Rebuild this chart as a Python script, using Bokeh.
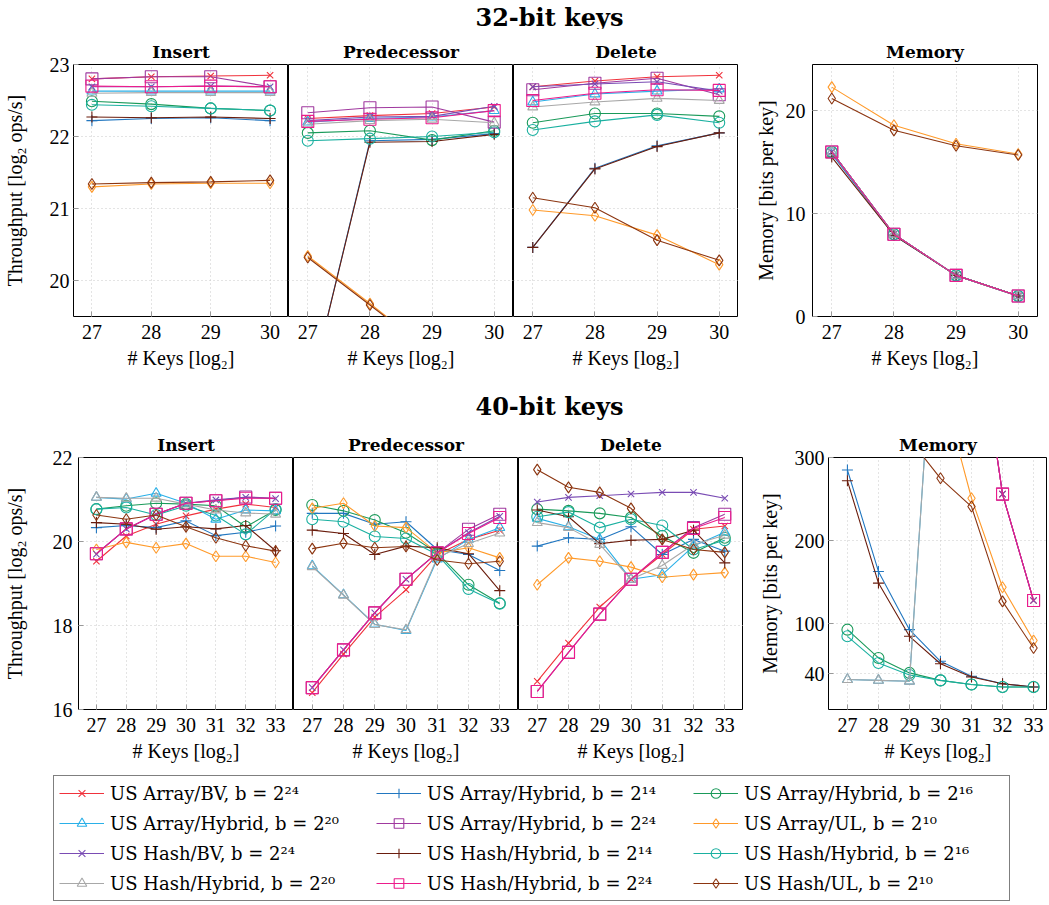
from bokeh.plotting import figure
from bokeh.layouts import column, row
from bokeh.models import Range1d, FixedTicker, Legend, LegendItem
from bokeh.embed import file_html
from bokeh.resources import INLINE

FONT = "Liberation Serif"
TFONT = "DejaVu Serif"
INK = "#000000"

# ---------------- data ----------------
x32 = [27, 28, 29, 30]
x40 = [27, 28, 29, 30, 31, 32, 33]

series_keys = ["abv", "ah14", "ah16", "ah20", "ah24", "aul",
               "hbv", "hh14", "hh16", "hh20", "hh24", "hul"]
series_labels = {
    "abv": "US Array/BV, b = 2²⁴",
    "ah14": "US Array/Hybrid, b = 2¹⁴",
    "ah16": "US Array/Hybrid, b = 2¹⁶",
    "ah20": "US Array/Hybrid, b = 2²⁰",
    "ah24": "US Array/Hybrid, b = 2²⁴",
    "aul": "US Array/UL, b = 2¹⁰",
    "hbv": "US Hash/BV, b = 2²⁴",
    "hh14": "US Hash/Hybrid, b = 2¹⁴",
    "hh16": "US Hash/Hybrid, b = 2¹⁶",
    "hh20": "US Hash/Hybrid, b = 2²⁰",
    "hh24": "US Hash/Hybrid, b = 2²⁴",
    "hul": "US Hash/UL, b = 2¹⁰",
}

# 32-bit keys: throughput [log2 ops/s]
ins32 = {
    "abv": [22.80, 22.83, 22.84, 22.85],
    "ah14": [22.22, 22.25, 22.26, 22.22],
    "ah16": [22.49, 22.45, 22.39, 22.36],
    "ah20": [22.63, 22.63, 22.63, 22.63],
    "ah24": [22.80, 22.83, 22.83, 22.69],
    "aul": [21.30, 21.34, 21.35, 21.35],
    "hbv": [22.69, 22.69, 22.70, 22.69],
    "hh14": [22.27, 22.26, 22.27, 22.25],
    "hh16": [22.44, 22.42, 22.39, 22.36],
    "hh20": [22.60, 22.61, 22.61, 22.61],
    "hh24": [22.70, 22.69, 22.70, 22.69],
    "hul": [21.34, 21.36, 21.37, 21.39],
}
pred32 = {
    "abv": [22.25, 22.29, 22.32, 22.41],
    "ah14": [18.36, 21.94, 21.96, 22.04],
    "ah16": [22.05, 22.08, 21.95, 22.08],
    "ah20": [22.20, 22.25, 22.27, 22.36],
    "ah24": [22.33, 22.40, 22.41, 22.20],
    "aul": [20.34, 19.68, 19.00, 18.35],
    "hbv": [22.22, 22.27, 22.28, 22.42],
    "hh14": [18.36, 21.92, 21.93, 22.03],
    "hh16": [21.94, 21.97, 22.00, 22.06],
    "hh20": [22.17, 22.22, 22.24, 22.19],
    "hh24": [22.21, 22.24, 22.26, 22.36],
    "hul": [20.32, 19.66, 19.00, 18.35],
}
del32 = {
    "abv": [22.69, 22.77, 22.83, 22.85],
    "ah14": [20.46, 21.56, 21.87, 22.05],
    "ah16": [22.19, 22.32, 22.32, 22.28],
    "ah20": [22.48, 22.59, 22.63, 22.66],
    "ah24": [22.65, 22.74, 22.81, 22.58],
    "aul": [20.98, 20.90, 20.63, 20.22],
    "hbv": [22.69, 22.73, 22.76, 22.63],
    "hh14": [20.46, 21.55, 21.86, 22.05],
    "hh16": [22.09, 22.21, 22.30, 22.19],
    "hh20": [22.41, 22.48, 22.53, 22.50],
    "hh24": [22.50, 22.60, 22.65, 22.64],
    "hul": [21.15, 21.01, 20.56, 20.28],
}
mem32 = {
    "abv": [16.0, 8.0, 4.0, 2.0],
    "ah14": [15.8, 7.9, 4.0, 2.0],
    "ah16": [16.0, 8.0, 4.0, 2.0],
    "ah20": [16.0, 8.0, 4.0, 2.0],
    "ah24": [16.0, 8.0, 4.0, 2.0],
    "aul": [22.3, 18.6, 16.8, 15.8],
    "hbv": [16.0, 8.0, 4.0, 2.0],
    "hh14": [15.5, 7.9, 4.0, 2.0],
    "hh16": [16.0, 8.0, 4.0, 2.0],
    "hh20": [16.0, 8.0, 4.0, 2.0],
    "hh24": [16.0, 8.0, 4.0, 2.0],
    "hul": [21.2, 18.1, 16.6, 15.7],
}

# 40-bit keys
ins40 = {
    "abv": [19.53, 20.13, 20.41, 20.61, 20.77, 20.89, 20.81],
    "ah14": [20.33, 20.38, 20.33, 20.49, 20.14, 20.22, 20.37],
    "ah16": [20.77, 20.85, 20.91, 20.89, 20.85, 20.35, 20.75],
    "ah20": [21.05, 21.01, 21.15, 20.91, 20.53, 20.75, 20.73],
    "ah24": [19.71, 20.30, 20.65, 20.91, 20.97, 21.06, 21.03],
    "aul": [19.81, 19.98, 19.85, 19.95, 19.65, 19.65, 19.50],
    "hbv": [19.70, 20.30, 20.65, 20.91, 20.99, 21.05, 21.02],
    "hh14": [20.45, 20.41, 20.29, 20.35, 20.30, 20.38, 19.78],
    "hh16": [20.77, 20.81, 20.63, 20.85, 20.62, 20.17, 20.77],
    "hh20": [21.05, 21.03, 21.03, 20.89, 20.75, 20.68, 20.65],
    "hh24": [19.71, 20.30, 20.65, 20.91, 20.97, 21.03, 21.03],
    "hul": [20.63, 20.53, 20.63, 20.35, 20.09, 19.90, 19.77],
}
pred40 = {
    "abv": [16.40, 17.32, 18.20, 18.85, 19.69, 20.05, 20.27],
    "ah14": [20.67, 20.67, 20.41, 20.47, 19.81, 19.69, 19.31],
    "ah16": [20.87, 20.73, 20.51, 20.21, 19.73, 18.97, 18.53],
    "ah20": [19.42, 18.73, 18.03, 17.88, 19.58, 20.05, 20.33],
    "ah24": [16.52, 17.42, 18.30, 19.10, 19.73, 20.29, 20.65],
    "aul": [20.79, 20.91, 20.37, 20.33, 19.73, 19.85, 19.61],
    "hbv": [16.52, 17.42, 18.30, 19.10, 19.73, 20.21, 20.60],
    "hh14": [20.27, 20.19, 19.69, 19.89, 19.85, 19.71, 18.83],
    "hh16": [20.53, 20.47, 20.12, 20.07, 19.69, 18.87, 18.52],
    "hh20": [19.40, 18.72, 18.02, 17.90, 19.62, 19.95, 20.20],
    "hh24": [16.52, 17.42, 18.30, 19.10, 19.73, 20.19, 20.57],
    "hul": [19.83, 19.96, 19.85, 19.88, 19.56, 19.47, 19.53],
}
del40 = {
    "abv": [16.67, 17.58, 18.44, 19.10, 19.69, 20.29, 20.37],
    "ah14": [19.89, 20.09, 20.05, 20.35, 19.69, 20.05, 19.77],
    "ah16": [20.77, 20.73, 20.67, 20.57, 20.13, 19.73, 20.09],
    "ah20": [20.55, 20.35, 20.05, 19.10, 19.21, 19.89, 20.22],
    "ah24": [16.43, 17.36, 18.27, 19.10, 19.74, 20.33, 20.65],
    "aul": [18.97, 19.61, 19.53, 19.39, 19.15, 19.21, 19.26],
    "hbv": [20.94, 21.05, 21.09, 21.13, 21.17, 21.17, 21.03],
    "hh14": [20.75, 20.59, 19.95, 20.03, 20.05, 20.27, 19.49],
    "hh16": [20.59, 20.70, 20.33, 20.53, 20.38, 19.81, 20.03],
    "hh20": [20.45, 20.33, 19.93, 19.10, 19.43, 19.93, 20.15],
    "hh24": [16.43, 17.36, 18.27, 19.10, 19.74, 20.31, 20.57],
    "hul": [21.71, 21.29, 21.17, 20.79, 20.05, 19.81, 19.74],
}
mem40 = {
    "abv": [8192, 4096, 2048, 1024, 512, 256, 128],
    "ah14": [285, 163, 93, 55, 37, 28, 24],
    "ah16": [93, 59, 41, 32, 27, 24, 24],
    "ah20": [33, 32, 31, 590, 1170, 2330, 4650],
    "ah24": [8192, 4096, 2048, 1024, 512, 256, 128],
    "aul": [2500, 1300, 700, 391, 251, 144, 80],
    "hbv": [8192, 4096, 2048, 1024, 512, 256, 128],
    "hh14": [272, 149, 85, 52, 36, 28, 24],
    "hh16": [85, 53, 38.5, 32, 27, 24, 24],
    "hh20": [33, 32, 31, 590, 1170, 2330, 4650],
    "hh24": [8192, 4096, 2048, 1024, 512, 256, 128],
    "hul": [1100, 600, 322, 275, 241, 127, 71],
}

# ---------------- styles ----------------
colors = {
    "abv": "#f0323c", "ah14": "#2277c0", "ah16": "#1a9a5a", "ah20": "#2ab0e8",
    "ah24": "#a0399f", "aul": "#ff9a2a", "hbv": "#7a4cb4", "hh14": "#6a1d0d",
    "hh16": "#1ab0a0", "hh20": "#a8a8a8", "hh24": "#ec1c8c", "hul": "#8c3510",
}
markers = {
    "abv": "x", "ah14": "cross", "ah16": "circle", "ah20": "triangle",
    "ah24": "square", "aul": "diamond", "hbv": "x", "hh14": "cross",
    "hh16": "circle", "hh20": "triangle", "hh24": "square", "hul": "diamond",
}
msize = {"x": 9, "cross": 11, "circle": 11, "triangle": 10, "square": 12, "diamond": 11}


def draw(p, x, y, k):
    c = colors[k]
    lr = p.line(x, y, line_color=c, line_width=1.1)
    sr = p.scatter(x, y, marker=markers[k], size=msize[markers[k]],
                   line_color=c, fill_color=None, line_width=1.1)
    return lr, sr


def panel(title, x, data, xr, yr, xticks, yticks, width, height,
          mbl, mbr, mbt, mbb, ylabel=None, ylab_so=5, ytick_so=5):
    p = figure(width=width, height=height, x_range=Range1d(*xr), y_range=Range1d(*yr),
               output_backend="svg", toolbar_location=None,
               min_border_left=mbl, min_border_right=mbr,
               min_border_top=mbt, min_border_bottom=mbb)
    p.title.text = title
    p.title.align = "center"
    p.title.text_font = TFONT
    p.title.text_font_size = "17px"
    p.title.text_font_style = "bold"
    p.title.text_color = INK
    p.title.standoff = 6
    p.outline_line_color = "black"
    p.outline_line_width = 1
    p.background_fill_color = "white"
    p.border_fill_color = "white"
    for ax in (p.xaxis, p.yaxis):
        ax.axis_line_color = None
        ax.major_tick_in = 5
        ax.major_tick_out = 0
        ax.major_tick_line_color = "#999999"
        ax.minor_tick_line_color = None
        ax.major_label_text_font = FONT
        ax.major_label_text_font_size = "20px"
        ax.major_label_text_color = INK
        ax.axis_label_text_font = FONT
        ax.axis_label_text_font_size = "20px"
        ax.axis_label_text_font_style = "normal"
        ax.axis_label_text_color = INK
    p.xaxis.ticker = FixedTicker(ticks=xticks)
    p.yaxis.ticker = FixedTicker(ticks=yticks)
    p.xgrid.ticker = FixedTicker(ticks=xticks)
    p.ygrid.ticker = FixedTicker(ticks=yticks)
    p.xaxis.axis_label = "# Keys [log₂]"
    p.xaxis.major_label_standoff = 8
    p.xaxis.axis_label_standoff = 5
    if ylabel is None:
        p.yaxis.visible = False
    else:
        p.yaxis.axis_label = ylabel
        p.yaxis.axis_label_standoff = ylab_so
        p.yaxis.major_label_standoff = ytick_so
    p.grid.grid_line_color = "#c8c8c8"
    p.grid.grid_line_dash = "1 3"
    p.grid.grid_line_width = 1
    for k in series_keys:
        draw(p, x, data[k], k)
    return p


def title_fig(text, height):
    p = figure(width=1045, height=height, x_range=Range1d(0, 1), y_range=Range1d(0, 1),
               output_backend="svg", toolbar_location=None, title_location="below",
               x_axis_location=None, y_axis_location=None, min_border=0)
    p.title.text = text
    p.title.align = "center"
    p.title.text_font = TFONT
    p.title.text_font_size = "24px"
    p.title.text_font_style = "bold"
    p.title.text_color = INK
    p.title.standoff = 0
    p.outline_line_color = None
    p.grid.visible = False
    return p


TP = "Throughput [log₂ ops/s]"
MEM = "Memory [bits per key]"

xr32 = (26.69, 30.31)
xr40 = (26.4, 33.6)

t1 = title_fig("32-bit keys", 28)
a1 = panel("Insert", x32, ins32, xr32, (19.5, 23.0), x32, [20, 21, 22, 23],
           288, 348, 64, 0, 36, 60, ylabel=TP, ylab_so=21, ytick_so=4)
a2 = panel("Predecessor", x32, pred32, xr32, (19.5, 23.0), x32, [20, 21, 22, 23],
           225, 348, 0, 0, 36, 60)
a3 = panel("Delete", x32, del32, xr32, (19.5, 23.0), x32, [20, 21, 22, 23],
           225, 348, 0, 0, 36, 60)
a4 = panel("Memory", x32, mem32, xr32, (0, 24.5), x32, [0, 10, 20],
           307, 348, 74, 8, 36, 60, ylabel=MEM, ylab_so=6, ytick_so=7)

t2 = title_fig("40-bit keys", 44)
b1 = panel("Insert", x40, ins40, xr40, (16, 22), x40, [16, 18, 20, 22],
           293, 349, 69, 0, 37, 60, ylabel=TP, ylab_so=24, ytick_so=6)
b2 = panel("Predecessor", x40, pred40, xr40, (16, 22), x40, [16, 18, 20, 22],
           225, 349, 0, 0, 37, 60)
b3 = panel("Delete", x40, del40, xr40, (16, 22), x40, [16, 18, 20, 22],
           225, 349, 0, 0, 37, 60)
b4 = panel("Memory", x40, mem40, (26.39, 33.45), (-3, 300), x40, [40, 100, 200, 300],
           304, 349, 85, 0, 37, 60, ylabel=MEM, ylab_so=11, ytick_so=4)

# legend figure
lp = figure(width=1045, height=134, x_range=Range1d(0, 1), y_range=Range1d(0, 1),
            output_backend="svg", toolbar_location=None,
            x_axis_location=None, y_axis_location=None,
            min_border_left=53, min_border_top=6, min_border_right=0, min_border_bottom=0)
lp.outline_line_color = None
lp.grid.visible = False
legend_order = ["abv", "ah20", "hbv", "hh20",
                "ah14", "ah24", "hh14", "hh24",
                "ah16", "aul", "hh16", "hul"]
items = []
for k in legend_order:
    lr, sr = draw(lp, x40, mem40[k], k)
    items.append(LegendItem(label=series_labels[k], renderers=[lr, sr]))
leg = Legend(items=items, ncols=3, orientation="vertical", location="top_left",
             margin=0, padding=5, spacing=6, glyph_width=45, glyph_height=24,
             label_height=24, label_width=260, label_standoff=6,
             label_text_font=TFONT, label_text_font_size="18px", label_text_color=INK,
             border_line_color="black", border_line_width=1,
             background_fill_color="white", background_fill_alpha=1.0)
lp.add_layout(leg, "center")

layout = column(t1, row(a1, a2, a3, a4), t2, row(b1, b2, b3, b4), lp)

open("out.html", "w").write(file_html(layout, INLINE))
